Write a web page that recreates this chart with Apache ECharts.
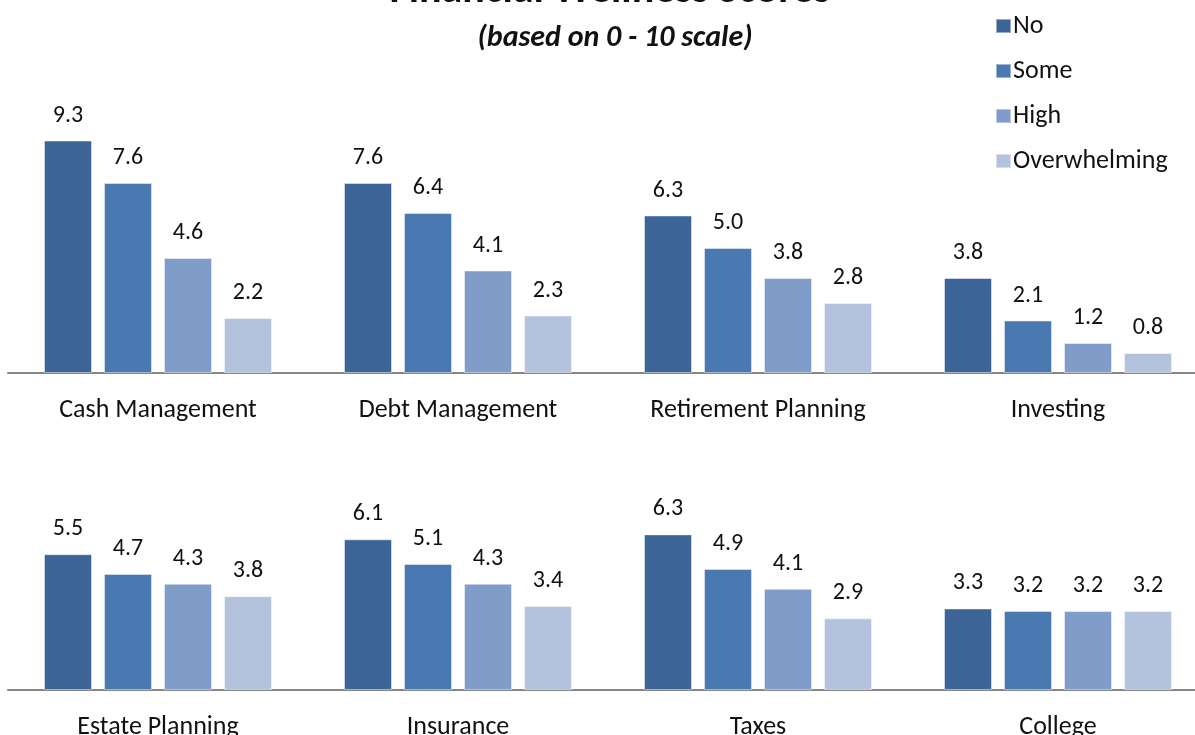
<!DOCTYPE html>
<html>
<head>
<meta charset="utf-8">
<title>Financial Wellness Scores</title>
<script src="https://cdn.jsdelivr.net/npm/echarts@6/dist/echarts.min.js"></script>
<style>
  html, body { margin: 0; padding: 0; background: #ffffff; }
  #chart { width: 1195px; height: 735px; }
</style>
</head>
<body>
<div id="chart"></div>
<script>
// Stress level groups (series) and the topic areas shown in two rows
const seriesNames = ['No', 'Some', 'High', 'Overwhelming'];
const topCategories = ['Cash Management', 'Debt Management', 'Retirement Planning', 'Investing'];
const bottomCategories = ['Estate Planning', 'Insurance', 'Taxes', 'College'];

// Scores per stress level, top row
const topNo = [9.3, 7.6, 6.3, 3.8];
const topSome = [7.6, 6.4, 5.0, 2.1];
const topHigh = [4.6, 4.1, 3.8, 1.2];
const topOverwhelming = [2.2, 2.3, 2.8, 0.8];

// Scores per stress level, bottom row
const bottomNo = [5.5, 6.1, 6.3, 3.3];
const bottomSome = [4.7, 5.1, 4.9, 3.2];
const bottomHigh = [4.3, 4.3, 4.1, 3.2];
const bottomOverwhelming = [3.8, 3.4, 2.9, 3.2];

const colors = ['#3c6496', '#4a79b1', '#7f9dc8', '#b3c3de'];
const FONT = 'Carlito, Lato, sans-serif';

const chart = echarts.init(document.getElementById('chart'), null, { renderer: 'canvas' });

function barSeries(name, data, idx, gridIdx) {
  return {
    name: name,
    type: 'bar',
    xAxisIndex: gridIdx,
    yAxisIndex: gridIdx,
    data: data,
    barWidth: 48,
    barGap: '25%',
    itemStyle: {
      color: colors[idx],
      borderColor: 'rgba(255,255,255,0.45)',
      borderWidth: 1
    },
    label: {
      show: true,
      position: 'top',
      distance: 13,
      fontFamily: FONT,
      fontSize: 24,
      color: '#111111',
      formatter: p => p.value.toFixed(1)
    },
    animation: false
  };
}

const catAxis = (gridIndex, cats) => ({
  type: 'category',
  gridIndex: gridIndex,
  data: cats,
  axisTick: { show: false },
  axisLine: { lineStyle: { color: '#868686', width: 2 } },
  axisLabel: {
    margin: 24,
    fontFamily: FONT,
    fontSize: 26,
    color: '#111111',
    interval: 0
  }
});

const valAxis = (gridIndex) => ({
  type: 'value',
  gridIndex: gridIndex,
  min: 0,
  max: 10,
  show: false
});

const option = {
  backgroundColor: '#ffffff',
  title: [
    {
      text: 'Financial Wellness Scores',
      left: 605,
      textAlign: 'center',
      top: -35,
      textStyle: { fontFamily: FONT, fontSize: 42, fontWeight: 'bold', color: '#111111' }
    },
    {
      text: '(based on 0 - 10 scale)',
      left: 610,
      textAlign: 'center',
      top: 18,
      textStyle: { fontFamily: FONT, fontSize: 30, fontWeight: 'bold', fontStyle: 'italic', color: '#111111' }
    }
  ],
  legend: {
    orient: 'vertical',
    left: 990,
    top: 8,
    icon: 'rect',
    itemWidth: 15,
    itemHeight: 14,
    itemGap: 19,
    data: seriesNames,
    textStyle: { fontFamily: FONT, fontSize: 26, color: '#111111', lineHeight: 26, padding: [0, 0, 0, -3] }
  },
  grid: [
    { left: 8, width: 1200, top: 123, height: 250, outerBoundsMode: 'none' },
    { left: 8, width: 1200, top: 443, height: 247, outerBoundsMode: 'none' }
  ],
  xAxis: [catAxis(0, topCategories), catAxis(1, bottomCategories)],
  yAxis: [valAxis(0), valAxis(1)],
  series: [
    barSeries('No', topNo, 0, 0),
    barSeries('Some', topSome, 1, 0),
    barSeries('High', topHigh, 2, 0),
    barSeries('Overwhelming', topOverwhelming, 3, 0),
    barSeries('No', bottomNo, 0, 1),
    barSeries('Some', bottomSome, 1, 1),
    barSeries('High', bottomHigh, 2, 1),
    barSeries('Overwhelming', bottomOverwhelming, 3, 1)
  ]
};

chart.setOption(option);
</script>
</body>
</html>
